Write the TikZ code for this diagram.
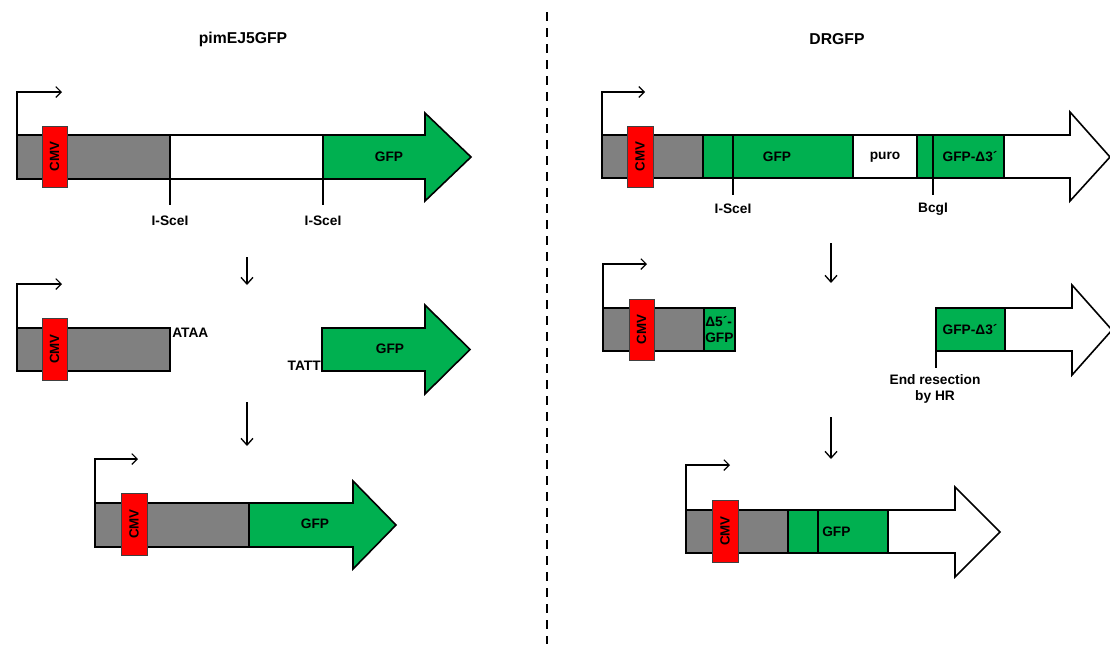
\documentclass[tikz,border=0pt]{standalone}
\usepackage{fontspec}
\setmainfont{Liberation Sans}
\usetikzlibrary{arrows.meta}
\definecolor{dnagray}{RGB}{128,128,128}
\definecolor{gfpgreen}{RGB}{0,176,80}
\definecolor{cmvred}{RGB}{255,0,0}
\tikzset{
  seg/.style={draw=black, line width=1.2pt},
  grayseg/.style={seg, fill=dnagray},
  greenseg/.style={seg, fill=gfpgreen},
  whiteseg/.style={seg, fill=white},
  cmvbox/.style={draw=black!75, line width=0.6pt, fill=cmvred},
  cmvtext/.style={font=\bfseries\fontsize{10}{11}\selectfont, rotate=90, inner sep=0pt},
  lbl/.style={font=\bfseries\fontsize{10.3}{12}\selectfont, inner sep=0pt},
  title/.style={font=\bfseries\fontsize{11.8}{13}\selectfont, inner sep=0pt},
  promoter/.style={line width=0.9pt, -{Straight Barb[length=4pt,width=8pt]}},
  tick/.style={line width=1pt},
  downarrow/.style={line width=1pt, -{Straight Barb[length=5pt,width=9pt]}},
}
\begin{document}
\begin{tikzpicture}[x=0.75pt, y=-0.75pt]
\useasboundingbox (0,0) rectangle (1110,644);
\fill[white] (0,0) rectangle (1110,644);

% titles and divider
\node[title] (t1) at (243,39) {pimEJ5GFP};
\node[title] (t2) at (837,39) {DRGFP};
\coordinate (divtop) at (547,12);
\coordinate (divbot) at (547,644);
\draw[line width=1.6pt, dash pattern=on 6.5pt off 5.5pt] (divtop) -- (divbot);

% ===== Left: pimEJ5GFP =====
% row 1
\draw[grayseg] (17,135) rectangle (170,179);
\draw[whiteseg] (170,135) rectangle (323,179);
\draw[greenseg] (323,135) -- (425,135) -- (425,113) -- (471,157) -- (425,201) -- (425,179) -- (323,179) -- cycle;
\draw[cmvbox] (42,126) rectangle (67,187);
\node[cmvtext] (cmv1) at (54.5,156.5) {CMV};
\draw[promoter] (17,135) -- (17,92) -- (62,92);
\draw[tick] (170,179) -- (170,205);
\draw[tick] (323,179) -- (323,205);
\node[lbl] (isce1) at (170,221) {I-SceI};
\node[lbl] (isce2) at (323,221) {I-SceI};
\node[lbl] (gfp1) at (389,157) {GFP};

\coordinate (la1s) at (247,257);
\coordinate (la1e) at (247,285);
\draw[downarrow] (la1s) -- (la1e);

% row 2
\draw[grayseg] (17,328) rectangle (170,371);
\draw[cmvbox] (42,318) rectangle (67,380);
\node[cmvtext] (cmv2) at (54.5,349) {CMV};
\draw[promoter] (17,328) -- (17,284) -- (62,284);
\node[lbl, anchor=west] (ataa) at (172,333) {ATAA};
\draw[greenseg] (322,328) -- (425,328) -- (425,305) -- (470,349.5) -- (425,394) -- (425,371) -- (322,371) -- cycle;
\node[lbl, anchor=base east] (tatt) at (321,370) {TATT};
\node[lbl] (gfp2) at (390,349) {GFP};

\coordinate (la2s) at (247,402);
\coordinate (la2e) at (247,446);
\draw[downarrow] (la2s) -- (la2e);

% row 3
\draw[grayseg] (95,503) rectangle (249,547);
\draw[greenseg] (249,503) -- (353,503) -- (353,481) -- (396,525) -- (353,569) -- (353,547) -- (249,547) -- cycle;
\draw[cmvbox] (121,493) rectangle (147,555);
\node[cmvtext] (cmv3) at (134,524) {CMV};
\draw[promoter] (95,503) -- (95,459) -- (138,459);
\node[lbl] (gfp3) at (315,524) {GFP};

% ===== Right: DRGFP =====
% row 1
\draw[grayseg] (602,135) rectangle (703,178);
\draw[greenseg] (703,135) rectangle (853,178);
\draw[seg] (733,135) -- (733,178);
\draw[whiteseg] (853,135) rectangle (917,178);
\draw[greenseg] (917,135) rectangle (1004,178);
\draw[seg] (933,135) -- (933,178);
\draw[whiteseg] (1004,135) -- (1070,135) -- (1070,112) -- (1110,157) -- (1070,201) -- (1070,178) -- (1004,178) -- cycle;
\draw[cmvbox] (627,126) rectangle (653,187);
\node[cmvtext] (cmv4) at (640,156.5) {CMV};
\draw[promoter] (602,135) -- (602,92) -- (645,92);
\draw[tick] (733,178) -- (733,195);
\draw[tick] (933,178) -- (933,195);
\node[lbl] (isce3) at (733,209) {I-SceI};
\node[lbl] (bcgi) at (933,209) {BcgI};
\node[lbl] (gfp4) at (777,157) {GFP};
\node[lbl] (puro) at (885,157) {puro};
\node[lbl] (gfpd3a) at (970,157) {GFP-Δ3´};

\coordinate (ra1s) at (831,243);
\coordinate (ra1e) at (831,283);
\draw[downarrow] (ra1s) -- (ra1e);

% row 2 left fragment
\draw[grayseg] (603,308) rectangle (704,351);
\draw[greenseg] (704,308) rectangle (735,351);
\draw[cmvbox] (629,299) rectangle (654,360);
\node[cmvtext] (cmv5) at (641.5,329.5) {CMV};
\draw[promoter] (603,308) -- (603,264) -- (647,264);
\node[lbl, anchor=west, align=left, font=\bfseries\fontsize{10.3}{12}\selectfont] (d5gfp) at (705,330) {Δ5´-\\GFP};

% row 2 right fragment
\draw[greenseg] (936,308) rectangle (1005,351);
\draw[whiteseg] (1005,308) -- (1072,308) -- (1072,285) -- (1112,330) -- (1072,375) -- (1072,351) -- (1005,351) -- cycle;
\draw[tick] (936,351) -- (936,368);
\node[lbl] (gfpd3b) at (970,330) {GFP-Δ3´};
\node[lbl, anchor=north, align=center, font=\bfseries\fontsize{10.3}{12.5}\selectfont] (endres) at (935,374) {End resection\\by HR};

\coordinate (ra2s) at (831,417);
\coordinate (ra2e) at (831,459);
\draw[downarrow] (ra2s) -- (ra2e);

% row 3
\draw[grayseg] (686,510) rectangle (788,553);
\draw[greenseg] (788,510) rectangle (888,553);
\draw[seg] (818,510) -- (818,553);
\draw[whiteseg] (888,510) -- (955,510) -- (955,487) -- (1000,532) -- (955,577) -- (955,553) -- (888,553) -- cycle;
\draw[cmvbox] (712,500) rectangle (738,562);
\node[cmvtext] (cmv6) at (725,531) {CMV};
\draw[promoter] (686,510) -- (686,465) -- (730,465);
\node[lbl, anchor=west] (gfp5) at (822,532) {GFP};
\end{tikzpicture}
\end{document}
